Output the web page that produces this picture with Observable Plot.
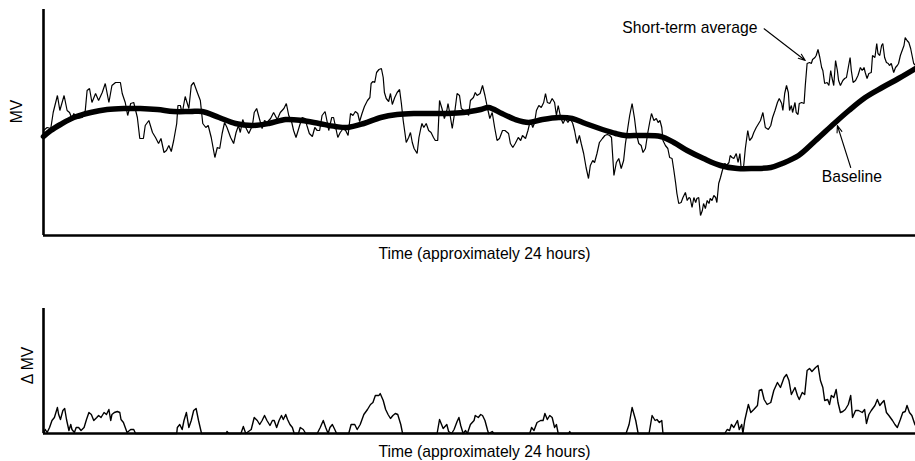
<!DOCTYPE html>
<html>
<head>
<meta charset="utf-8">
<script src="https://cdn.jsdelivr.net/npm/d3@7"></script>
<script src="https://cdn.jsdelivr.net/npm/@observablehq/plot@0.6"></script>
<style>
  html, body { margin: 0; padding: 0; background: #ffffff; }
  #chart { position: relative; width: 915px; height: 461px; overflow: hidden; background: #fff; }
  #chart svg { position: absolute; left: 0; }
</style>
</head>
<body>
<div id="chart"></div>
<script>
// ---- Data (time in minutes over ~24 h, MV in arbitrary units) ----
const shortTermAverage = [
[0,105],[6,108],[12,107],[16,123],[23,140],[27,125],[34,140],[39,125],[43,123],[47,117],[50,122],[56,117],[64,118],[69,125],[72,145],[76,147],[80,133],[86,142],[91,135],[97,143],[102,152],[108,133],[113,150],[119,153],[127,153],[130,142],[135,133],[139,120],[144,132],[149,133],[155,118],[159,97],[165,97],[168,110],[174,115],[180,103],[185,98],[190,92],[194,97],[199,83],[203,85],[207,90],[211,84],[215,95],[220,112],[222,130],[226,130],[229,122],[234,139],[240,127],[244,150],[248,153],[254,143],[259,135],[263,112],[268,108],[272,110],[277,98],[283,78],[287,88],[291,87],[295,102],[299,113],[303,108],[309,98],[314,92],[318,103],[322,110],[325,103],[329,116],[334,108],[339,102],[345,110],[348,123],[352,127],[356,118],[361,107],[365,115],[369,113],[375,117],[380,123],[386,116],[391,123],[397,127],[401,132],[405,120],[410,113],[413,105],[417,98],[422,108],[427,118],[432,117],[435,110],[439,102],[444,99],[448,108],[452,105],[456,105],[460,120],[465,124],[469,112],[471,105],[476,118],[479,118],[486,98],[490,103],[495,107],[499,105],[503,100],[507,122],[511,120],[515,124],[519,122],[522,114],[526,122],[530,129],[535,135],[539,138],[541,152],[544,154],[547,153],[550,163],[554,166],[558,167],[561,158],[563,143],[566,137],[570,134],[573,142],[576,131],[580,138],[584,143],[588,146],[591,132],[594,115],[597,102],[599,93],[603,98],[606,103],[609,93],[612,87],[617,82],[620,98],[623,107],[625,112],[628,108],[632,112],[636,105],[640,103],[644,98],[647,95],[651,95],[654,135],[658,127],[662,117],[666,125],[668,132],[671,122],[675,107],[679,123],[683,142],[687,140],[690,127],[694,125],[699,123],[702,120],[705,135],[710,138],[713,143],[716,140],[721,142],[725,150],[729,140],[733,128],[737,117],[741,123],[745,108],[749,95],[753,97],[758,105],[762,105],[766,103],[768,102],[771,92],[775,88],[779,92],[784,98],[788,95],[791,100],[796,97],[800,105],[804,115],[808,108],[811,113],[814,125],[818,130],[822,128],[826,133],[829,142],[832,133],[836,132],[840,137],[844,133],[847,120],[850,130],[854,118],[858,112],[862,117],[866,113],[870,117],[874,112],[877,105],[881,92],[885,100],[888,92],[892,82],[896,68],[900,57],[903,70],[907,75],[910,73],[914,82],[918,93],[923,97],[927,100],[931,101],[935,100],[938,98],[942,60],[946,73],[950,77],[954,67],[958,75],[961,92],[965,108],[968,120],[972,132],[976,117],[979,102],[983,92],[987,90],[990,83],[994,87],[998,103],[1001,113],[1004,122],[1008,115],[1012,117],[1015,113],[1018,115],[1021,108],[1023,95],[1027,90],[1031,87],[1034,78],[1038,77],[1041,65],[1044,52],[1046,42],[1049,32],[1053,33],[1056,38],[1060,43],[1063,35],[1066,38],[1068,37],[1071,28],[1074,38],[1077,33],[1079,37],[1082,38],[1085,20],[1088,25],[1090,32],[1093,27],[1096,35],[1099,32],[1101,37],[1104,35],[1107,40],[1110,38],[1112,33],[1115,52],[1118,58],[1121,65],[1125,72],[1128,70],[1132,73],[1134,80],[1137,78],[1140,77],[1144,82],[1147,73],[1150,82],[1152,68],[1156,68],[1159,87],[1163,105],[1166,95],[1170,98],[1173,103],[1177,108],[1181,112],[1184,115],[1188,123],[1192,108],[1197,106],[1201,110],[1204,118],[1208,125],[1212,133],[1215,137],[1219,132],[1221,125],[1224,142],[1227,150],[1230,143],[1232,125],[1235,130],[1237,123],[1241,133],[1243,123],[1246,121],[1248,132],[1252,133],[1256,132],[1258,150],[1261,172],[1265,173],[1268,172],[1270,176],[1274,178],[1276,180],[1279,186],[1282,178],[1285,168],[1287,165],[1290,152],[1294,153],[1297,150],[1300,165],[1302,158],[1305,150],[1308,175],[1311,165],[1313,155],[1316,150],[1320,155],[1323,157],[1326,158],[1329,168],[1332,178],[1334,165],[1337,153],[1341,155],[1345,160],[1349,168],[1352,165],[1355,168],[1357,163],[1360,157],[1363,162],[1367,163],[1369,180],[1373,178],[1376,192],[1378,182],[1381,180],[1384,190],[1386,192],[1389,178],[1392,173],[1395,172],[1397,170],[1400,172],[1404,163],[1407,168],[1410,170],[1412,172],[1415,180],[1418,185],[1421,190],[1423,198],[1426,195],[1429,193],[1432,187],[1435,178],[1437,172],[1440,170]
];

const baselineMV = [
[0,99],[12,105],[28,111],[50,118],[78,123],[105,126],[133,127],[160,127],[188,126],[215,124],[243,124],[262,124],[290,118],[317,112],[345,110],[372,112],[400,116],[427,115],[455,112],[482,109],[502,108],[529,112],[557,118],[584,121],[612,122],[639,122],[667,122],[694,123],[722,126],[735,128],[757,122],[779,116],[801,113],[824,116],[851,118],[873,117],[895,112],[923,106],[945,102],[961,100],[986,100],[1019,99],[1041,93],[1063,85],[1090,77],[1118,70],[1146,67],[1173,67],[1201,68],[1220,72],[1247,80],[1275,95],[1302,110],[1330,125],[1357,138],[1385,148],[1412,157],[1440,167]
];

const deltaMV = [
[0,0],[3,4],[6,1],[10,6],[14,13],[18,16],[23,26],[25,19],[28,14],[32,23],[35,25],[38,14],[42,3],[45,9],[47,4],[51,1],[54,6],[58,6],[62,3],[67,6],[71,14],[75,21],[79,19],[83,13],[88,16],[91,18],[95,16],[100,21],[104,19],[108,24],[111,13],[113,19],[117,21],[122,22],[126,21],[128,14],[132,11],[135,6],[138,1],[144,4],[149,4],[152,0],
[220,0],[221,6],[225,9],[229,4],[232,13],[236,21],[240,6],[244,13],[248,23],[252,25],[256,13],[261,0],
[302,0],[303,2],[306,0],
[326,0],[330,7],[334,0],[343,4],[348,16],[353,13],[357,9],[361,13],[365,18],[369,13],[374,8],[378,13],[381,13],[385,6],[389,13],[393,18],[396,14],[400,19],[403,14],[407,9],[411,6],[414,0],
[421,0],[424,6],[429,4],[433,0],
[452,0],[457,6],[462,13],[466,6],[470,0],[473,6],[477,9],[481,4],[484,0],
[504,0],[508,9],[514,9],[518,4],[523,9],[529,19],[535,24],[540,29],[544,31],[548,38],[554,38],[556,40],[561,33],[565,24],[569,19],[573,15],[577,18],[581,20],[585,19],[590,9],[593,0],
[650,0],[654,14],[660,5],[666,9],[669,2],[674,0],[678,4],[683,12],[686,16],[689,8],[693,0],[697,3],[700,0],[705,9],[711,13],[713,18],[718,16],[722,19],[725,18],[729,13],[733,4],[735,0],[741,2],[744,0],
[803,0],[806,6],[810,3],[815,11],[821,13],[825,13],[828,20],[832,14],[836,18],[840,16],[844,6],[847,9],[850,0],
[867,0],[869,2],[871,0],
[962,0],[967,9],[972,26],[978,13],[982,0],
[1000,0],[1005,18],[1010,13],[1013,14],[1017,11],[1021,13],[1023,0],
[1125,0],[1129,4],[1133,3],[1136,9],[1140,6],[1146,13],[1149,4],[1153,9],[1155,0],[1158,13],[1164,29],[1168,21],[1173,24],[1179,28],[1182,43],[1186,44],[1190,34],[1195,29],[1201,31],[1206,43],[1212,51],[1217,46],[1223,56],[1227,59],[1231,53],[1235,39],[1241,46],[1245,38],[1248,34],[1253,41],[1257,39],[1261,63],[1265,65],[1269,62],[1275,66],[1279,68],[1283,53],[1287,46],[1290,33],[1295,34],[1298,29],[1301,38],[1305,36],[1309,44],[1312,31],[1316,21],[1320,22],[1324,24],[1329,29],[1333,38],[1336,16],[1341,23],[1346,23],[1352,21],[1356,24],[1359,10],[1363,19],[1367,23],[1373,28],[1377,34],[1381,28],[1385,31],[1388,33],[1392,21],[1396,18],[1402,13],[1406,9],[1410,6],[1415,14],[1419,21],[1423,22],[1426,28],[1430,21],[1434,18],[1439,9],[1440,8]
];

// ---- Text ----
const topYLabel = "MV";
const bottomYLabel = "\u0394 MV";
const xLabel = "Time (approximately 24 hours)";
const shortTermLabel = "Short-term average";
const baselineLabel = "Baseline";
// callout anchors (data coords: minutes, MV)
const shortTermCallout = [{label: shortTermLabel, x: 1179, y: 202.7}];
const baselineCallout = [{label: baselineLabel, x: 1335, y: 53.3}];
const calloutArrows = [
  {x1: 1190, y1: 206.7, x2: 1258, y2: 175},
  {x1: 1333, y1: 68, x2: 1311, y2: 110}
];

const FONT = '"Liberation Sans", Arial, Helvetica, sans-serif';
const FS = 15.7;

const chart = document.getElementById("chart");

const topChart = Plot.plot({
  width: 915,
  height: 262,
  marginLeft: 43,
  marginRight: 0,
  marginTop: 9,
  marginBottom: 27,
  x: {domain: [0, 1440], axis: null},
  y: {domain: [0, 226], axis: null},
  style: {fontFamily: FONT, fontSize: FS + "px", background: "transparent", color: "#000", overflow: "visible"},
  marks: [
    Plot.line(shortTermAverage, {x: d => d[0], y: d => d[1], stroke: "#000", strokeWidth: 1.2, strokeLinejoin: "miter"}),
    Plot.line(baselineMV, {x: d => d[0], y: d => d[1], stroke: "#000", strokeWidth: 5.5, curve: "catmull-rom"}),
    Plot.ruleX([0], {stroke: "#000", strokeWidth: 2.6}),
    Plot.ruleY([0], {stroke: "#000", strokeWidth: 2.6}),
    Plot.text([topYLabel], {text: d => d, frameAnchor: "left", rotate: -90, dx: -22, dy: -11, lineAnchor: "bottom", textAnchor: "middle", fontSize: FS, fill: "#000"}),
    Plot.text([xLabel], {text: d => d, frameAnchor: "bottom", dx: 5, dy: 23.5, lineAnchor: "bottom", textAnchor: "middle", fontSize: FS, fill: "#000"}),
    Plot.arrow(calloutArrows, {x1: "x1", y1: "y1", x2: "x2", y2: "y2", stroke: "#000", strokeWidth: 1.1, headLength: 10, headAngle: 40}),
    Plot.text(shortTermCallout, {x: "x", y: "y", text: "label", textAnchor: "end", lineAnchor: "bottom", fontSize: FS, fill: "#000"}),
    Plot.text(baselineCallout, {x: "x", y: "y", text: "label", textAnchor: "middle", lineAnchor: "bottom", fontSize: FS, fill: "#000"})
  ]
});
topChart.style.top = "0px";
chart.appendChild(topChart);

const bottomChart = Plot.plot({
  width: 915,
  height: 199,
  marginLeft: 43,
  marginRight: 0,
  marginTop: 46,
  marginBottom: 28,
  x: {domain: [0, 1440], axis: null},
  y: {domain: [0, 125], axis: null},
  style: {fontFamily: FONT, fontSize: FS + "px", background: "transparent", color: "#000", overflow: "visible"},
  marks: [
    Plot.line(deltaMV, {x: d => d[0], y: d => d[1], stroke: "#000", strokeWidth: 1.4}),
    Plot.ruleX([0], {stroke: "#000", strokeWidth: 2.6}),
    Plot.ruleY([0], {stroke: "#000", strokeWidth: 2.6}),
    Plot.text([bottomYLabel], {text: d => d, frameAnchor: "left", rotate: -90, dx: -11, dy: -5.5, lineAnchor: "bottom", textAnchor: "middle", fontSize: FS, fill: "#000"}),
    Plot.text([xLabel], {text: d => d, frameAnchor: "bottom", dx: 5, dy: 23, lineAnchor: "bottom", textAnchor: "middle", fontSize: FS, fill: "#000"})
  ]
});
bottomChart.style.top = "262px";
chart.appendChild(bottomChart);
</script>
</body>
</html>
